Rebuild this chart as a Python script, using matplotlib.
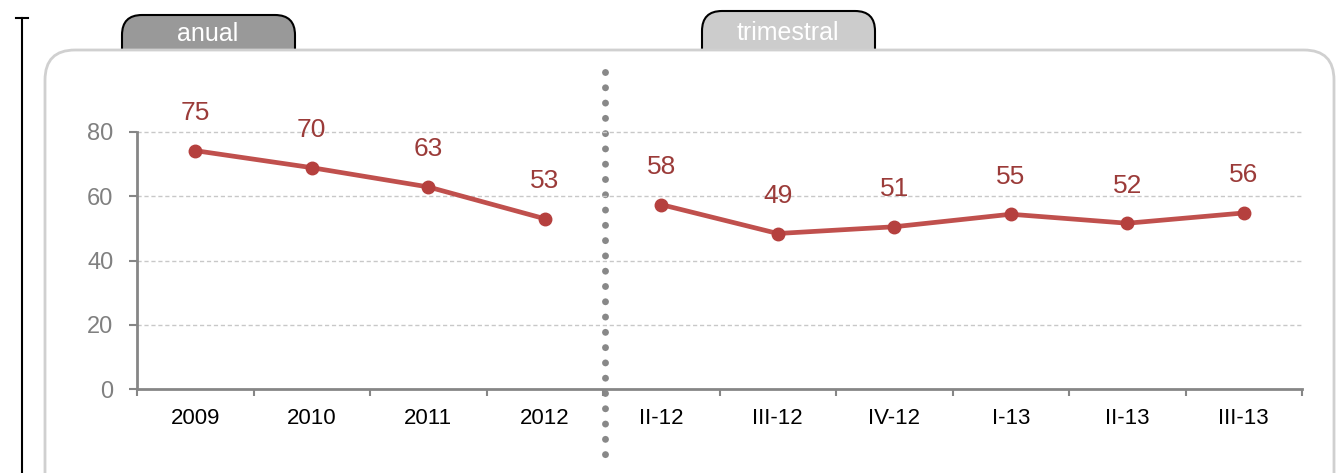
import matplotlib.pyplot as plt
from matplotlib.patches import FancyBboxPatch

plt.rcParams['font.family'] = ['Liberation Sans', 'DejaVu Sans']

# datos
categorias = ['2009', '2010', '2011', '2012', 'II-12', 'III-12', 'IV-12', 'I-13', 'II-13', 'III-13']
valores = [74.2, 68.9, 62.9, 53.0, 57.4, 48.4, 50.5, 54.4, 51.6, 54.8]
etiquetas = ['75', '70', '63', '53', '58', '49', '51', '55', '52', '56']
n_anual = 4
yticks = [0, 20, 40, 60, 80]

W, H = 1336, 473
fig = plt.figure(figsize=(W / 100, H / 100), dpi=100)

# fondo en coordenadas de pixel
bg = fig.add_axes([0, 0, 1, 1], zorder=0)
bg.set_xlim(0, W)
bg.set_ylim(H, 0)
bg.axis('off')

# pestañas
bg.add_patch(FancyBboxPatch((122, 15), 173, 60, boxstyle='round,pad=0,rounding_size=20',
                            fc='#999999', ec='black', lw=1.5, zorder=1))
bg.add_patch(FancyBboxPatch((702, 11), 173, 60, boxstyle='round,pad=0,rounding_size=20',
                            fc='#CCCCCC', ec='black', lw=1.5, zorder=1))
bg.text(208, 34, 'anual', color='white', fontsize=18, ha='center', va='center', zorder=3)
bg.text(788, 33, 'trimestral', color='white', fontsize=18, ha='center', va='center', zorder=3)

# marco redondeado
bg.add_patch(FancyBboxPatch((45, 50), 1289, 460, boxstyle='round,pad=0,rounding_size=30',
                            fc='white', ec='#D0D0D0', lw=2, zorder=2))

# linea vertical izquierda
bg.plot([22, 22], [18, H], color='black', lw=1.5, zorder=3)
bg.plot([16, 28], [18, 18], color='black', lw=1.5, zorder=3)

# separador punteado
bg.plot([605, 605], [72, 456], color='#888888', lw=5, linestyle=(0, (0.001, 2.2)),
        dash_capstyle='round', zorder=3)

# grafico principal
ax = fig.add_axes([137 / W, 84 / H, 1165 / W, 257 / H], zorder=2)
ax.set_facecolor('none')
x = list(range(len(categorias)))

ax.plot(x[:n_anual], valores[:n_anual], color='#C0504D', lw=3.4, marker='o',
        markersize=9, markerfacecolor='#B5403E', markeredgecolor='#B5403E', zorder=4)
ax.plot(x[n_anual:], valores[n_anual:], color='#C0504D', lw=3.4, marker='o',
        markersize=9, markerfacecolor='#B5403E', markeredgecolor='#B5403E', zorder=4)

for xi, v, t in zip(x, valores, etiquetas):
    ax.annotate(t, (xi, v), xytext=(0, 27), textcoords='offset points',
                ha='center', va='center', fontsize=19, color='#9B3B39')

ax.set_xlim(-0.5, len(categorias) - 0.5)
ax.set_ylim(0, 80)
ax.set_yticks(yticks)
ax.set_xticks(x)
ax.set_xticklabels(categorias)
ax.set_xticks([i - 0.5 for i in range(len(categorias) + 1)], minor=True)

for s in ['top', 'right']:
    ax.spines[s].set_visible(False)
for s in ['left', 'bottom']:
    ax.spines[s].set_color('#868686')
    ax.spines[s].set_linewidth(2)

ax.tick_params(axis='y', colors='#868686', labelcolor='#808080', labelsize=17,
               length=6, width=1.5, pad=11)
ax.tick_params(axis='x', which='major', length=0, labelsize=16, labelcolor='black', pad=14)
ax.tick_params(axis='x', which='minor', length=5, width=1.5, color='#868686')

for yv in yticks[1:]:
    ax.axhline(yv, color='#C8C8C8', lw=1, linestyle=(0, (3, 2)), zorder=1, clip_on=False)

fig.savefig('out.png', dpi=100)
